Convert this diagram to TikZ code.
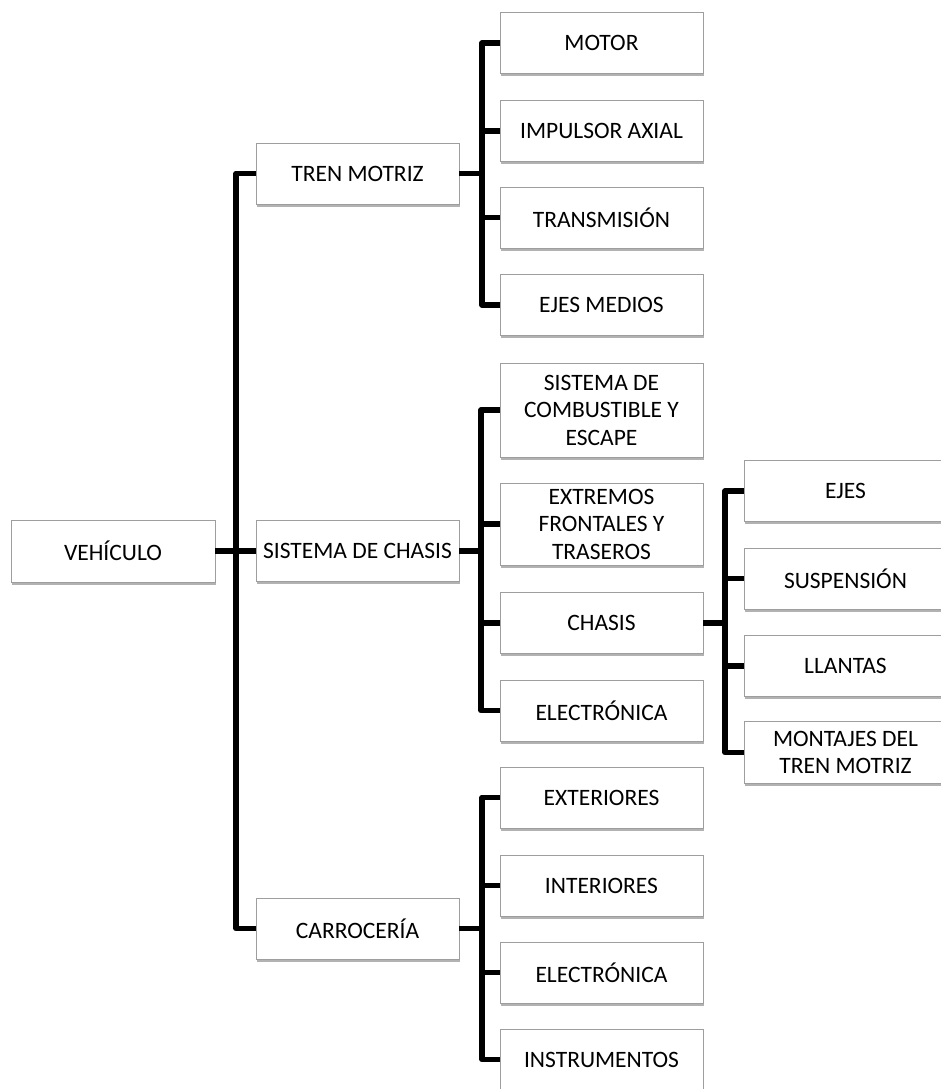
\documentclass[tikz,border=0pt]{standalone}
\usepackage{fontspec}
\setmainfont{Carlito}
\usetikzlibrary{shadows}
\begin{document}
\begin{tikzpicture}[x=1pt,y=-1pt,
  box/.style={draw=black!38, line width=0.8pt, fill=white, minimum width=203pt, minimum height=61pt,
    inner sep=0pt, align=center, text=black,
    font=\fontsize{23.5}{27.5}\selectfont,
    drop shadow={shadow xshift=1.2pt, shadow yshift=-2.6pt, fill=black, opacity=0.3}},
  conn/.style={line width=5.5pt, black, line join=round}]
\fill[white] (0,0) rectangle (941,1089);
\useasboundingbox (0,0) rectangle (941,1089);
\clip (0,0) rectangle (941,1089);
% level 0/1
\node[box, minimum width=204pt, minimum height=62pt] (veh) at (113,551) {VEHÍCULO};
\node[box] (tm) at (357.5,173.5) {TREN MOTRIZ};
\node[box] (sc) at (357.5,551) {SISTEMA DE CHASIS};
\node[box] (car) at (357.5,928.5) {CARROCERÍA};
% level 2 - tren motriz
\node[box] (motor) at (601.5,43) {MOTOR};
\node[box] (imp) at (601.5,131) {IMPULSOR AXIAL};
\node[box] (trans) at (601.5,217.5) {TRANSMISIÓN};
\node[box] (emed) at (601.5,305) {EJES MEDIOS};
% level 2 - sistema de chasis
\node[box, minimum height=94pt] (scomb) at (601.5,410) {SISTEMA DE\\COMBUSTIBLE Y\\ESCAPE};
\node[box, minimum height=82pt] (extr) at (601.5,524) {EXTREMOS\\FRONTALES Y\\TRASEROS};
\node[box] (chasis) at (601.5,623) {CHASIS};
\node[box] (elecA) at (601.5,710.5) {ELECTRÓNICA};
% level 2 - carroceria
\node[box] (exter) at (601.5,797.5) {EXTERIORES};
\node[box] (inter) at (601.5,885.5) {INTERIORES};
\node[box] (elecB) at (601.5,972.5) {ELECTRÓNICA};
\node[box] (instr) at (601.5,1059.5) {INSTRUMENTOS};
% level 3 - chasis
\node[box] (ejes) at (845.5,491) {EJES};
\node[box] (susp) at (845.5,578.5) {SUSPENSIÓN};
\node[box] (llan) at (845.5,666) {LLANTAS};
\node[box, minimum height=62pt] (mont) at (845.5,752.5) {MONTAJES DEL\\TREN MOTRIZ};
% trunk x positions
\coordinate (tA) at (236,0);
\coordinate (tB) at (482,0);
\coordinate (tC) at (481,0);
\coordinate (tD) at (482,0);
\coordinate (tE) at (725,0);
% main trunk
\draw[conn] (tm.west) -| (tA |- car.west) -- (car.west);
\draw[conn] (veh.east) -- (sc.west);
% tren motriz group
\draw[conn] (motor.west) -| (tB |- emed.west) -- (emed.west);
\draw[conn] (imp.west) -- (imp.west -| tB);
\draw[conn] (trans.west) -- (trans.west -| tB);
\draw[conn] (tm.east) -- (tm.east -| tB);
% sistema de chasis group
\draw[conn] (scomb.west) -| (tC |- elecA.west) -- (elecA.west);
\draw[conn] (extr.west) -- (extr.west -| tC);
\draw[conn] (chasis.west) -- (chasis.west -| tC);
\draw[conn] (sc.east) -- (sc.east -| tC);
% carroceria group
\draw[conn] (exter.west) -| (tD |- instr.west) -- (instr.west);
\draw[conn] (inter.west) -- (inter.west -| tD);
\draw[conn] (elecB.west) -- (elecB.west -| tD);
\draw[conn] (car.east) -- (car.east -| tD);
% chasis group
\draw[conn] (ejes.west) -| (tE |- mont.west) -- (mont.west);
\draw[conn] (susp.west) -- (susp.west -| tE);
\draw[conn] (llan.west) -- (llan.west -| tE);
\draw[conn] (chasis.east) -- (chasis.east -| tE);
\end{tikzpicture}
\end{document}
